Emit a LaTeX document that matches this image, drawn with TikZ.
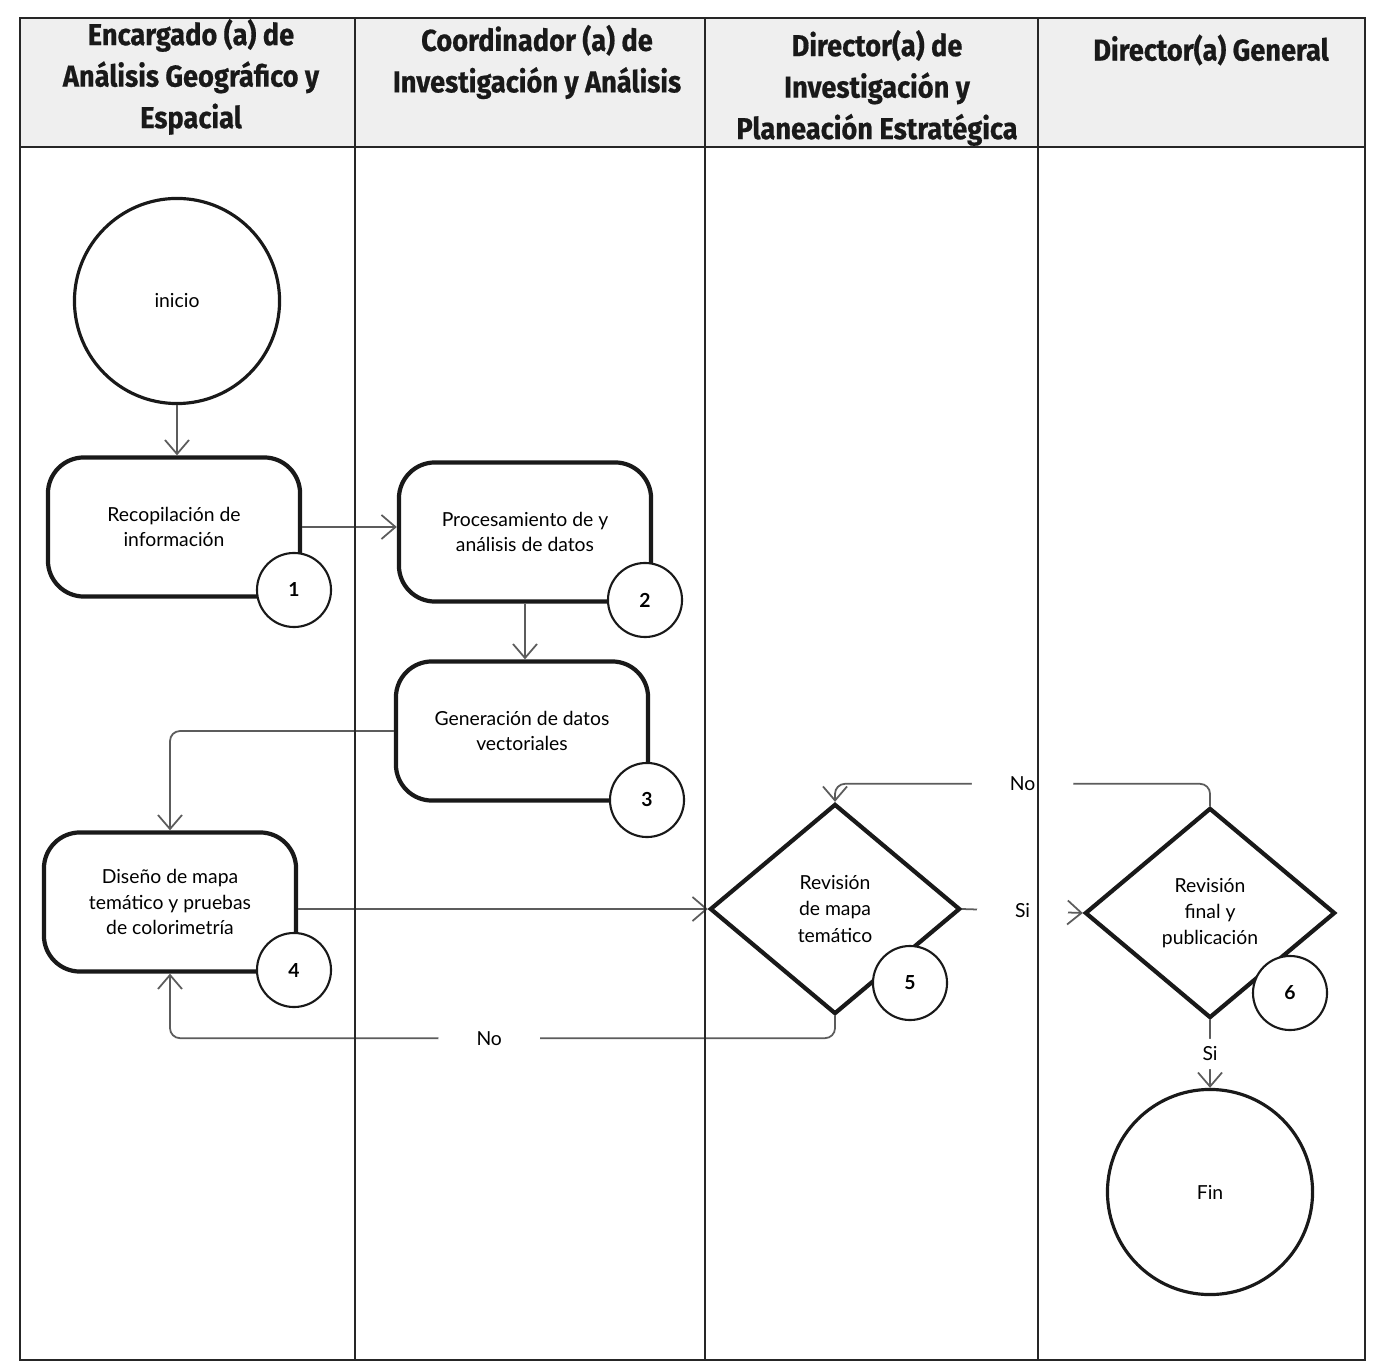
\documentclass[tikz,border=0pt]{standalone}
\usepackage{fontspec}
\setmainfont{Lato}
\newfontfamily\headfont[FakeStretch=0.9, BoldFeatures={FakeBold=0.6}]{Fira Sans}
\usetikzlibrary{shapes.geometric,arrows.meta}
\definecolor{linegray}{HTML}{5C5C5C}
\definecolor{headgray}{HTML}{EFEFEF}
\tikzset{
  lane/.style={draw=black!85, line width=0.7pt},
  head/.style={font=\headfont\bfseries\fontsize{8.6}{11.8}\selectfont, align=center, text=black!90},
  act/.style={draw=black!90, line width=1.2pt, rounded corners=0.36cm, minimum width=2.52cm, minimum height=1.39cm, align=center, font=\fontsize{5.5}{7.2}\selectfont},
  dec/.style={diamond, draw=black!90, line width=1.2pt, minimum width=2.5cm, minimum height=2.1cm, inner sep=0pt, align=center, font=\fontsize{5.5}{7.4}\selectfont},
  term/.style={circle, draw=black!90, line width=0.9pt, minimum size=2.05cm, font=\fontsize{5.5}{7.2}\selectfont},
  num/.style={circle, draw=black!90, fill=white, line width=0.6pt, minimum size=0.74cm, inner sep=0pt, font=\bfseries\fontsize{5.5}{6}\selectfont},
  flow/.style={draw=linegray, line width=0.5pt, -{Straight Barb[length=1.4mm,width=2.4mm]}, rounded corners=1mm},
  tag/.style={fill=white, inner xsep=0.38cm, inner ysep=1pt, font=\fontsize{5.5}{6}\selectfont},
  vtag/.style={fill=white, inner xsep=1pt, inner ysep=0.08cm, font=\fontsize{5.5}{6}\selectfont}
}
\begin{document}
\begin{tikzpicture}[x=0.01cm, y=-0.01cm]
  \useasboundingbox (0,0) rectangle (1383,1368);
  \fill[white] (0,0) rectangle (1383,1368);
  \fill[headgray] (20,18) rectangle (1365,147);

  \node[head] (h1) at (191,77) {Encargado (a) de\\Análisis Geográfico y\\Espacial};
  \node[head] (h2) at (537,62) {Coordinador (a) de\\Investigación y Análisis};
  \node[head] (h3) at (877,88) {Director(a) de\\Investigación y\\Planeación Estratégica};
  \node[head] (h4) at (1211,50) {Director(a) General};

  \node[term] (inicio) at (177,301) {inicio};
  \node[act] (recop) at (174,527) {Recopilación de\\información};
  \node[act] (proc) at (525,532) {Procesamiento de y\\análisis de datos};
  \node[act] (gen) at (522,731) {Generación de datos\\vectoriales};
  \node[act] (diseno) at (170,902) {Diseño de mapa\\temático y pruebas\\de colorimetría};
  \node[dec] (rev) at (835,909) {Revisión\\de mapa\\temático};
  \node[dec] (final) at (1210,913) {Revisión\\final y\\publicación};
  \node[term] (fin) at (1210,1192) {Fin};

  \node[num] (n1) at (294,590) {1};
  \node[num] (n2) at (645,600) {2};
  \node[num] (n3) at (647,800) {3};
  \node[num] (n4) at (294,970) {4};
  \node[num] (n5) at (910,983) {5};
  \node[num] (n6) at (1290,993) {6};

  \begin{scope}[flow]
    \draw (inicio.south) -- (inicio.south |- recop.north);
    \draw (recop.east) -- (recop.east -| proc.west);
    \draw (proc.south) -- (proc.south |- gen.north);
    \draw (gen.west) -| (diseno.north);
    \draw (diseno.east |- rev.west) -- (rev.west);
    \draw (rev.south) -- ++(0,22) -| node[tag, pos=0.26] {No} (diseno.south);
    \draw (rev.east) -- node[tag] {Si} (final.west);
    \draw (final.north) -- ++(0,-22) -| node[tag, pos=0.25] {No} (rev.north);
    \draw (final.south) -- node[vtag] {Si} (fin.north);
  \end{scope}

  \draw[lane] (20,18) rectangle (1365,1360);
  \draw[lane] (20,147) -- (1365,147);
  \draw[lane] (355,18) -- (355,1360);
  \draw[lane] (705,18) -- (705,1360);
  \draw[lane] (1038,18) -- (1038,1360);
\end{tikzpicture}
\end{document}
